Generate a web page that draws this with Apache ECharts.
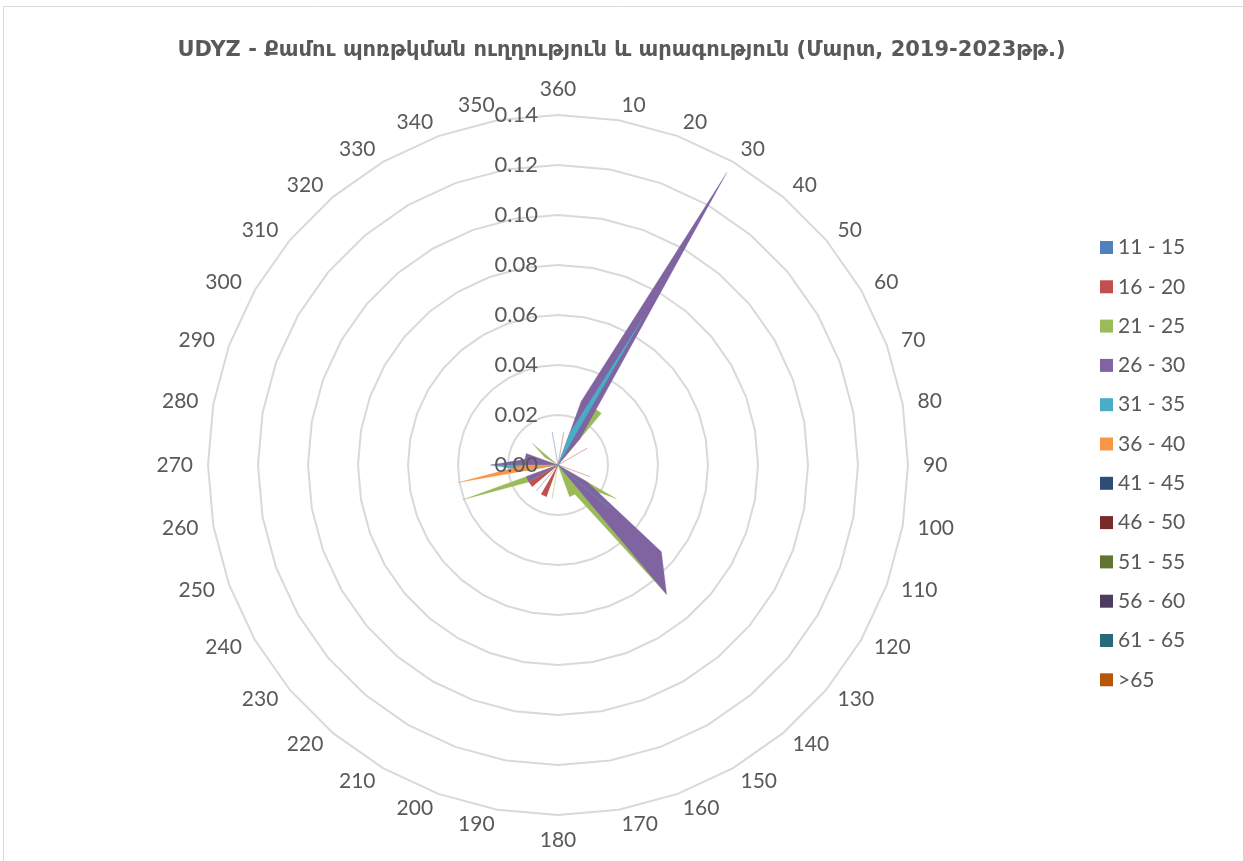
<!DOCTYPE html>
<html>
<head>
<meta charset="utf-8">
<script src="https://cdn.jsdelivr.net/npm/echarts@6/dist/echarts.min.js"></script>
<style>
  html, body { margin: 0; padding: 0; background: #fff; }
  #chart { width: 1243px; height: 861px; }
</style>
</head>
<body>
<div id="chart"></div>
<script>
'use strict';

// wind directions, degrees (clockwise from north)
const directions = [10, 20, 30, 40, 50, 60, 70, 80, 90, 100, 110, 120,
  130, 140, 150, 160, 170, 180, 190, 200, 210, 220, 230, 240,
  250, 260, 270, 280, 290, 300, 310, 320, 330, 340, 350, 360];

const speedClasses = ['11 - 15', '16 - 20', '21 - 25', '26 - 30', '31 - 35', '36 - 40',
  '41 - 45', '46 - 50', '51 - 55', '56 - 60', '61 - 65', '>65'];

const colors = ['#4f81bd', '#c0504d', '#9bbb59', '#8064a2', '#4bacc6', '#f79646',
  '#2c4d75', '#772c2a', '#5f7530', '#4d3b62', '#276a7c', '#b65708'];

// frequency per direction (10..360)
const s11_15 = [0, 0, 0, 0, 0, 0, 0, 0, 0, 0, 0, 0,
  0, 0, 0, 0, 0, 0, 0, 0, 0, 0, 0, 0,
  0, 0, 0, 0, 0, 0, 0, 0, 0, 0, 0.0135, 0];
const s16_20 = [0.0135, 0, 0, 0, 0, 0.0135, 0, 0, 0, 0, 0.0135, 0,
  0, 0, 0, 0, 0, 0, 0, 0.0135, 0.0135, 0, 0.0135, 0.0135,
  0, 0, 0, 0, 0, 0, 0, 0, 0, 0, 0, 0];
const s21_25 = [0, 0.0, 0.027, 0.027, 0, 0, 0, 0, 0, 0, 0, 0.027,
  0.0135, 0.0676, 0.0135, 0.0135, 0, 0, 0.0135, 0, 0, 0, 0, 0.0135,
  0.0405, 0, 0, 0, 0, 0.006, 0.0135, 0, 0, 0, 0, 0];
const s26_30 = [0, 0.027, 0.1351, 0.0135, 0, 0, 0, 0, 0, 0, 0, 0.0135,
  0.054, 0.0676, 0, 0, 0, 0, 0, 0, 0, 0.0135, 0, 0.0135,
  0.0135, 0, 0.027, 0.0135, 0.0135, 0, 0, 0, 0, 0, 0, 0];
const s31_35 = [0, 0.0135, 0.0676, 0, 0, 0, 0, 0, 0, 0, 0, 0,
  0.027, 0, 0, 0, 0, 0, 0, 0, 0, 0, 0, 0,
  0, 0.0135, 0.027, 0, 0, 0, 0, 0, 0, 0, 0, 0];
const s36_40 = [0, 0, 0, 0, 0, 0, 0, 0, 0, 0, 0, 0,
  0, 0, 0, 0, 0, 0, 0, 0, 0, 0, 0, 0,
  0, 0.0405, 0.0135, 0, 0, 0, 0, 0, 0, 0, 0, 0];
const s41_45 = new Array(36).fill(0);
const s46_50 = new Array(36).fill(0);
const s51_55 = new Array(36).fill(0);
const s56_60 = new Array(36).fill(0);
const s61_65 = new Array(36).fill(0);
const s65plus = new Array(36).fill(0);

const seriesValues = [s11_15, s16_20, s21_25, s26_30, s31_35, s36_40,
  s41_45, s46_50, s51_55, s56_60, s61_65, s65plus];

const radiusTicks = [0, 0.02, 0.04, 0.06, 0.08, 0.10, 0.12, 0.14];

const titleText = 'UDYZ - Քամու պոռթկման ուղղություն և արագություն (Մարտ, 2019-2023թթ.)';

// radar indicators run counter-clockwise: 360 on top, then 350, 340 ... 10
const order = directions.map((d, i) => i).reverse();

const labelColor = '#595959';
const cx = 558, cy = 465, rad = 350;

const chart = echarts.init(document.getElementById('chart'));

chart.setOption({
  backgroundColor: '#fff',
  animation: false,
  title: {
    text: titleText,
    left: 'center',
    top: 35,
    textStyle: { fontFamily: 'DejaVu Sans', fontSize: 21, fontWeight: 'bold', color: labelColor }
  },
  graphic: [{
    type: 'rect',
    shape: { x: 3.5, y: 6.5, width: 1250, height: 870 },
    style: { fill: 'none', stroke: '#d9d9d9', lineWidth: 1 },
    silent: true
  }],
  legend: {
    orient: 'vertical',
    left: 1095,
    top: 232,
    itemWidth: 13,
    itemHeight: 13,
    itemGap: 18.3,
    icon: 'rect',
    textStyle: { fontFamily: 'Lato', fontSize: 21, color: labelColor, lineHeight: 21 },
    data: speedClasses
  },
  radar: {
    center: [cx, cy],
    radius: rad,
    startAngle: 90,
    splitNumber: 7,
    shape: 'polygon',
    indicator: order.map(i => ({ name: String(directions[i]), min: 0, max: 0.14 })),
    axisName: { color: labelColor, fontFamily: 'Lato', fontSize: 21 },
    nameGap: 15,
    axisLine: { show: false },
    axisTick: { show: false },
    axisLabel: { show: false },
    splitArea: { show: false },
    splitLine: { lineStyle: { color: '#d9d9d9', width: 2 } }
  },
  // polar used only for the radius tick labels along the 360 axis
  polar: { center: [cx, cy], radius: rad },
  angleAxis: { type: 'value', min: 0, max: 360, startAngle: 90, show: false },
  radiusAxis: {
    type: 'value',
    min: radiusTicks[0],
    max: radiusTicks[radiusTicks.length - 1],
    interval: 0.02,
    z: 10,
    axisLine: { show: false },
    axisTick: { show: false },
    splitLine: { show: false },
    axisLabel: {
      color: labelColor,
      fontFamily: 'Lato',
      fontSize: 22,
      margin: 20,
      formatter: v => v.toFixed(2)
    }
  },
  series: speedClasses.map((name, k) => ({
    type: 'radar',
    name: name,
    symbol: 'none',
    itemStyle: { color: colors[k] },
    lineStyle: { width: 0.8, opacity: 0.35, color: colors[k] },
    areaStyle: { color: colors[k], opacity: 1 },
    data: [{ name: name, value: order.map(i => seriesValues[k][i]) }]
  }))
});
</script>
</body>
</html>
